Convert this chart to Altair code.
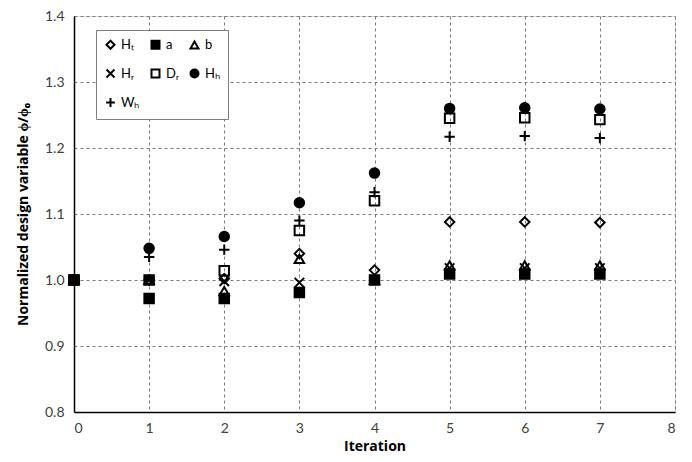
import altair as alt
import pandas as pd

iterations = [0, 1, 2, 3, 4, 5, 6, 7]
series_names = ["Hₜ", "a", "b", "Hᵣ", "Dᵣ", "Hₕ", "Wₕ"]
Ht = [1.0, 1.0, 1.002, 1.040, 1.015, 1.088, 1.088, 1.087]
a = [1.0, 0.972, 0.972, 0.981, 1.0, 1.009, 1.009, 1.009]
b = [1.0, 1.0, 0.983, 1.032, 1.0, 1.022, 1.022, 1.022]
Hr = [1.0, 1.0, 0.998, 0.996, 1.0, 1.018, 1.018, 1.018]
Dr = [1.0, 1.0, 1.014, 1.075, 1.120, 1.245, 1.246, 1.243]
Hh = [1.0, 1.048, 1.066, 1.117, 1.162, 1.260, 1.261, 1.259]
Wh = [1.0, 1.035, 1.046, 1.090, 1.133, 1.217, 1.218, 1.215]

series_values = [Ht, a, b, Hr, Dr, Hh, Wh]
# draw order: filled square 'a' last so it sits on top at iteration 0
draw_order = ["Hₜ", "b", "Hᵣ", "Dᵣ", "Hₕ", "Wₕ", "a"]

rows = []
for name in draw_order:
    vals = series_values[series_names.index(name)]
    for it, v in zip(iterations, vals):
        rows.append({"Iteration": it, "value": v, "series": name,
                     "order": draw_order.index(name)})
df = pd.DataFrame(rows)

shapes = [
    "diamond",
    "square",
    "triangle-up",
    "M-1,-1L1,1M-1,1L1,-1",
    "square",
    "circle",
    "M-1.1,0L1.1,0M0,-1.1L0,1.1",
]
fills = ["transparent", "black", "transparent", "transparent", "transparent", "black", "transparent"]
strokes = ["black"] * 7

LFONT = "Lato"
TFONT = "Open Sans"

axis_style = dict(
    domain=True, domainColor="black", domainWidth=1.5, ticks=False,
    grid=True, gridColor="#7a7a7a", gridDash=[3, 3], gridWidth=1,
    labelFont=LFONT, labelFontSize=14, labelColor="#404040",
    titleFont=TFONT, titleFontSize=14, titleFontWeight="bold", titleColor="black",
)

leg = alt.Legend(title=None, orient="none", legendX=22, legendY=14, direction="horizontal",
                 columns=3, fillColor="white", strokeColor="#7f7f7f",
                 padding=8, rowPadding=12, columnPadding=7,
                 symbolSize=64, symbolStrokeWidth=2,
                 labelOffset=4, labelFontSize=13, labelFont=LFONT, labelColor="black")

points = alt.Chart(df).mark_point(size=90, strokeWidth=2, opacity=1).encode(
    x=alt.X("Iteration:Q",
            scale=alt.Scale(domain=[0, 8], nice=False, zero=False),
            axis=alt.Axis(values=list(range(0, 9)), title="Iteration", format="d",
                          labelPadding=9, titlePadding=4, **axis_style)),
    y=alt.Y("value:Q",
            scale=alt.Scale(domain=[0.8, 1.4], nice=False, zero=False),
            axis=alt.Axis(values=[0.8, 0.9, 1.0, 1.1, 1.2, 1.3, 1.4], format=".1f",
                          title="Normalized design variable  ϕ/ϕ₀",
                          labelPadding=10, titlePadding=14, **axis_style)),
    shape=alt.Shape("series:N", sort=series_names,
                    scale=alt.Scale(domain=series_names, range=shapes), legend=leg),
    fill=alt.Fill("series:N", sort=series_names,
                  scale=alt.Scale(domain=series_names, range=fills), legend=leg),
    stroke=alt.Stroke("series:N", sort=series_names,
                      scale=alt.Scale(domain=series_names, range=strokes), legend=leg),
    order=alt.Order("order:Q"),
)

chart = points.properties(
    width=601, height=396,
    autosize=alt.AutoSizeParams(type="none"),
    padding={"left": 66, "top": 8, "right": 9, "bottom": 42},
).configure_view(
    stroke="black", strokeWidth=1.5
).configure(background="white")

chart.save("out.html", embed_options={"renderer": "svg", "actions": False})
